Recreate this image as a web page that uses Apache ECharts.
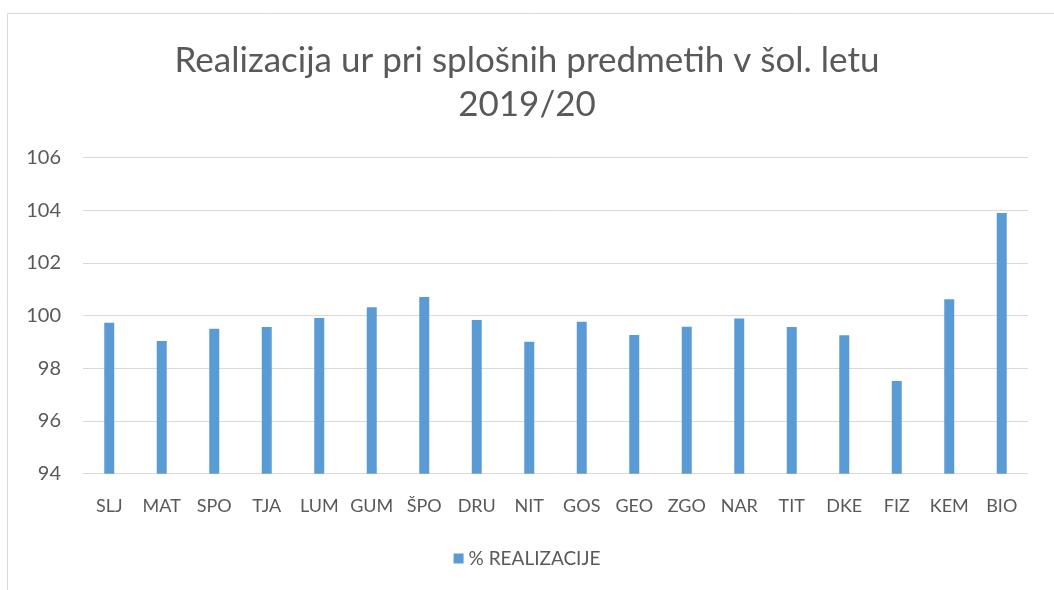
<!DOCTYPE html>
<html><head><meta charset="utf-8">
<script src="https://cdn.jsdelivr.net/npm/echarts@6/dist/echarts.min.js"></script>
<style>html,body{margin:0;padding:0;background:#fff}#c{width:1054px;height:590px}</style>
</head><body><div id="c"></div>
<script>
const categories = ['SLJ','MAT','SPO','TJA','LUM','GUM','ŠPO','DRU','NIT','GOS','GEO','ZGO','NAR','TIT','DKE','FIZ','KEM','BIO'];
const realizacija = [99.73,99.04,99.50,99.57,99.91,100.32,100.71,99.84,99.01,99.77,99.27,99.58,99.89,99.57,99.26,97.52,100.62,103.90];
const seriesName = '% REALIZACIJE';
const titleText = 'Realizacija ur pri splošnih predmetih v šol. letu\n2019/20';
const yMin = 94, yMax = 106, yStep = 2;

const font = 'Lato, "Open Sans", sans-serif';
const chart = echarts.init(document.getElementById('c'), null, {renderer:'canvas'});
chart.setOption({
  animation:false,
  graphic:[{type:'rect', shape:{x:7.5,y:13.5,width:1100,height:640}, style:{fill:'none',stroke:'#d9d9d9',lineWidth:1}, silent:true}],
  title:{text:titleText, left:'center', top:34, itemGap:0,
    textStyle:{fontFamily:font, fontSize:35, fontWeight:'normal', color:'#595959', lineHeight:44}},
  legend:{bottom:17, left:'center', itemWidth:10, itemHeight:10, itemGap:5,
    textStyle:{fontFamily:font, fontSize:19, color:'#595959'}, data:[{name:seriesName, icon:'rect'}]},
  grid:{left:83, right:26, top:157.7, bottom:116.3, containLabel:false},
  xAxis:{type:'category', data:categories,
    axisLine:{show:false}, axisTick:{show:false},
    axisLabel:{fontFamily:font, fontSize:18, color:'#595959', margin:23, interval:0}},
  yAxis:{type:'value', min:yMin, max:yMax, interval:yStep,
    axisLine:{show:false}, axisTick:{show:false},
    axisLabel:{fontFamily:font, fontSize:20, color:'#595959', margin:22},
    splitLine:{lineStyle:{color:'#d9d9d9', width:1}}},
  series:[{name:seriesName, type:'bar', data:realizacija, barWidth:10,
    itemStyle:{color:'#5b9bd5'}}]
});
</script></body></html>
